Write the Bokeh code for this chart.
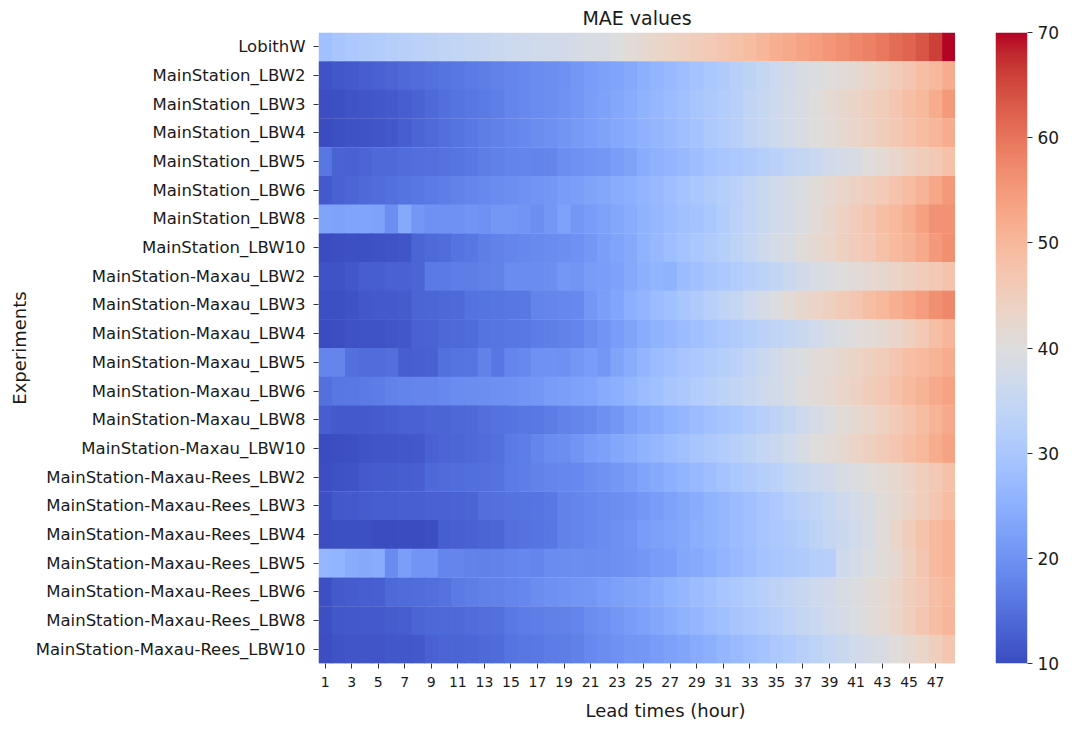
import numpy as np
from bokeh.plotting import figure
from bokeh.layouts import row
from bokeh.models import (LinearColorMapper, FixedTicker, Range1d, FactorRange,
                          ColumnDataSource, Title)
from bokeh.embed import file_html
from bokeh.resources import INLINE

# ---------------- data ----------------
experiments = [
    "LobithW",
    "MainStation_LBW2", "MainStation_LBW3", "MainStation_LBW4", "MainStation_LBW5",
    "MainStation_LBW6", "MainStation_LBW8", "MainStation_LBW10",
    "MainStation-Maxau_LBW2", "MainStation-Maxau_LBW3", "MainStation-Maxau_LBW4",
    "MainStation-Maxau_LBW5", "MainStation-Maxau_LBW6", "MainStation-Maxau_LBW8",
    "MainStation-Maxau_LBW10",
    "MainStation-Maxau-Rees_LBW2", "MainStation-Maxau-Rees_LBW3", "MainStation-Maxau-Rees_LBW4",
    "MainStation-Maxau-Rees_LBW5", "MainStation-Maxau-Rees_LBW6", "MainStation-Maxau-Rees_LBW8",
    "MainStation-Maxau-Rees_LBW10",
]
lead_times = list(range(1, 49))
tick_hours = [1, 3, 5, 7, 9, 11, 13, 15, 17, 19, 21, 23, 25, 27, 29, 31, 33, 35, 37, 39, 41, 43, 45, 47]
cbar_ticks = [10, 20, 30, 40, 50, 60, 70]

mae_lobithw = [28.5, 29.5, 30.5, 31.0, 31.5, 32.0, 32.5, 33.0, 33.5, 34.0, 34.5, 35.0,
               35.5, 36.0, 36.3, 36.6, 37.0, 37.3, 37.6, 38.0, 38.5, 39.0, 39.8, 41.0,
               42.0, 43.0, 43.8, 44.5, 45.2, 46.0, 47.0, 48.0, 49.0, 50.5, 51.5, 52.5,
               53.5, 54.5, 55.5, 56.5, 57.5, 58.5, 59.5, 61.0, 62.0, 63.5, 66.0, 70.0]
mae_ms_lbw2 = [11.0, 11.5, 12.0, 12.5, 13.0, 13.5, 14.0, 14.5, 15.0, 15.5, 16.0, 16.5,
               17.0, 17.5, 18.0, 18.5, 19.0, 19.5, 20.0, 20.8, 21.5, 22.3, 23.0, 24.0,
               25.0, 26.0, 27.0, 28.0, 29.0, 30.0, 31.0, 32.3, 33.5, 35.0, 36.3, 37.5,
               38.7, 39.5, 40.3, 41.0, 42.0, 43.0, 44.0, 45.5, 47.0, 48.5, 50.0, 52.0]
mae_ms_lbw3 = [10.3, 10.6, 11.0, 11.3, 11.6, 12.0, 12.5, 13.2, 14.0, 14.8, 15.5, 16.0,
               16.5, 17.2, 18.0, 18.5, 19.0, 19.5, 20.2, 21.0, 21.8, 22.5, 23.5, 24.5,
               25.5, 26.5, 27.5, 28.5, 29.5, 30.5, 31.5, 32.7, 34.0, 35.2, 36.5, 37.7,
               39.0, 40.2, 41.5, 42.5, 43.5, 44.5, 45.5, 47.0, 48.5, 50.0, 52.0, 55.0]
mae_ms_lbw4 = [10.2, 10.5, 10.8, 11.0, 11.3, 11.8, 12.5, 13.3, 14.0, 14.8, 15.5, 16.2,
               16.8, 17.4, 18.0, 18.6, 19.2, 19.8, 20.5, 21.3, 22.0, 22.8, 23.7, 24.5,
               25.3, 26.2, 27.2, 28.2, 29.2, 30.3, 31.5, 32.7, 34.0, 35.3, 36.5, 37.7,
               39.0, 40.0, 41.0, 42.0, 43.0, 44.0, 45.2, 46.5, 47.7, 49.0, 50.5, 52.0]
mae_ms_lbw5 = [16.0, 13.2, 13.0, 13.5, 14.0, 14.2, 14.5, 14.8, 15.0, 15.3, 15.8, 16.3,
               16.8, 17.3, 17.8, 18.2, 17.8, 18.0, 19.5, 20.0, 20.5, 21.0, 21.8, 22.8,
               24.5, 25.3, 26.0, 27.0, 28.0, 29.0, 29.7, 30.3, 31.0, 32.0, 33.0, 34.0,
               35.0, 36.0, 37.0, 38.0, 39.0, 40.3, 41.5, 42.8, 44.0, 45.3, 46.5, 48.0]
mae_ms_lbw6 = [12.0, 13.0, 13.5, 14.0, 14.5, 15.0, 15.5, 16.0, 16.5, 17.0, 17.5, 18.0,
               18.5, 19.0, 19.5, 20.0, 20.5, 21.0, 21.5, 22.0, 22.7, 23.5, 24.3, 25.0,
               26.0, 27.0, 28.0, 29.0, 30.0, 31.0, 32.0, 33.2, 34.5, 35.8, 37.0, 38.2,
               39.5, 40.8, 42.0, 43.0, 44.0, 45.0, 46.0, 47.5, 49.0, 51.0, 53.0, 55.0]
mae_ms_lbw8 = [23.0, 22.5, 23.0, 23.0, 22.5, 19.5, 24.0, 21.0, 20.0, 20.0, 20.0, 20.5,
               20.0, 21.0, 21.0, 20.5, 19.5, 21.0, 22.5, 21.0, 21.5, 22.5, 23.5, 24.5,
               25.5, 26.5, 27.5, 28.3, 29.0, 30.0, 31.5, 33.0, 34.5, 36.0, 37.0, 38.0,
               39.5, 41.0, 42.5, 44.0, 45.5, 47.0, 48.5, 50.0, 51.5, 54.0, 56.0, 56.0]
mae_ms_lbw10 = [10.0, 10.3, 10.5, 10.5, 10.8, 11.0, 11.2, 13.5, 14.0, 14.5, 15.5, 16.0,
                17.0, 17.5, 18.0, 18.3, 18.7, 19.0, 19.5, 20.0, 21.0, 22.0, 23.0, 24.0,
                25.5, 26.8, 28.0, 29.0, 30.0, 31.0, 32.0, 33.5, 35.0, 36.5, 38.0, 39.0,
                40.5, 42.0, 43.0, 44.5, 45.5, 46.5, 48.0, 49.5, 51.0, 52.5, 55.0, 56.5]
mae_mx_lbw2 = [11.0, 11.0, 11.5, 12.5, 12.5, 13.0, 13.0, 13.5, 16.5, 16.5, 16.8, 17.0,
               17.3, 17.5, 19.0, 19.0, 19.0, 19.5, 21.0, 20.5, 21.5, 21.8, 22.5, 24.0,
               25.0, 26.0, 25.5, 27.5, 28.5, 29.5, 30.5, 31.5, 32.5, 33.5, 34.5, 36.0,
               37.5, 38.5, 39.5, 40.2, 41.0, 41.8, 42.5, 43.5, 44.5, 45.5, 46.5, 47.5]
mae_mx_lbw3 = [10.5, 10.5, 10.8, 11.5, 12.0, 12.0, 12.3, 13.3, 13.6, 13.8, 14.0, 15.3,
               15.5, 15.8, 16.0, 16.2, 17.8, 18.0, 18.3, 18.6, 21.0, 22.0, 23.3, 24.8,
               26.0, 27.5, 28.5, 29.8, 31.0, 32.3, 33.7, 35.0, 36.5, 38.0, 39.5, 41.0,
               42.5, 43.5, 44.5, 45.7, 47.0, 48.5, 50.0, 51.5, 53.0, 54.5, 56.5, 57.5]
mae_mx_lbw4 = [10.2, 10.3, 10.8, 11.0, 11.0, 11.2, 11.5, 13.0, 13.2, 13.8, 14.0, 14.3,
               15.5, 15.8, 16.0, 16.3, 16.6, 17.2, 17.5, 18.0, 19.5, 20.5, 21.5, 23.0,
               24.5, 25.5, 26.5, 27.5, 28.5, 29.3, 30.2, 31.0, 32.0, 33.0, 34.0, 35.0,
               36.0, 37.2, 38.5, 39.5, 40.3, 41.0, 42.0, 43.0, 44.5, 46.5, 48.5, 50.5]
mae_mx_lbw5 = [18.0, 18.0, 15.0, 14.5, 14.5, 14.8, 12.5, 12.8, 13.0, 15.0, 15.5, 15.8,
               17.5, 16.0, 18.0, 18.5, 20.0, 20.0, 19.8, 21.0, 21.5, 21.0, 23.0, 24.5,
               26.0, 27.5, 28.5, 29.5, 30.5, 31.3, 32.2, 33.2, 34.5, 36.0, 37.5, 38.5,
               39.5, 40.5, 41.5, 42.5, 43.5, 44.5, 45.5, 47.0, 48.5, 49.5, 51.0, 52.0]
mae_mx_lbw6 = [15.0, 16.0, 16.2, 16.4, 16.6, 17.5, 17.8, 18.0, 18.2, 18.5, 19.0, 19.3,
               19.5, 19.8, 20.0, 20.5, 21.0, 21.5, 22.0, 22.5, 23.3, 24.2, 25.2, 26.2,
               27.5, 28.5, 29.5, 30.5, 31.5, 32.5, 33.5, 34.5, 35.5, 36.5, 37.5, 38.7,
               40.0, 41.0, 42.0, 43.0, 44.0, 45.3, 46.5, 48.0, 49.5, 51.0, 52.5, 53.5]
mae_mx_lbw8 = [12.5, 12.0, 12.0, 12.0, 12.2, 12.5, 13.0, 13.0, 13.3, 13.5, 13.8, 14.2,
               14.8, 15.2, 15.5, 16.0, 16.3, 16.7, 17.5, 18.0, 18.8, 19.8, 21.0, 22.3,
               23.5, 24.5, 25.5, 26.5, 27.5, 28.5, 29.3, 30.0, 31.3, 32.5, 33.8, 35.0,
               36.5, 38.0, 39.5, 41.0, 42.0, 43.0, 44.3, 45.8, 47.3, 49.0, 51.0, 52.5]
mae_mx_lbw10 = [10.2, 10.3, 10.5, 11.0, 11.2, 11.3, 11.5, 11.8, 13.0, 13.3, 13.6, 14.0,
                14.5, 15.0, 16.5, 17.0, 18.0, 19.0, 19.5, 20.5, 21.5, 22.3, 23.5, 24.5,
                25.5, 26.5, 27.5, 28.5, 29.5, 30.5, 31.5, 32.5, 33.5, 34.8, 36.0, 37.0,
                38.5, 40.0, 41.0, 42.0, 43.3, 44.5, 45.7, 47.0, 48.5, 50.0, 52.0, 53.5]
mae_rs_lbw2 = [10.3, 10.8, 11.0, 12.0, 12.2, 12.3, 12.5, 12.7, 14.0, 14.3, 14.5, 14.8,
               15.0, 15.3, 16.5, 17.0, 17.5, 18.0, 18.3, 18.6, 19.5, 20.3, 21.0, 21.8,
               23.0, 24.0, 25.0, 26.0, 27.0, 28.0, 29.0, 30.0, 31.0, 32.0, 33.0, 34.2,
               35.5, 36.5, 37.5, 38.5, 39.5, 40.3, 41.2, 42.3, 43.5, 45.0, 46.5, 48.0]
mae_rs_lbw3 = [10.5, 11.8, 12.0, 12.3, 12.5, 12.5, 12.7, 12.8, 13.0, 13.0, 13.2, 13.5,
               14.8, 15.0, 15.3, 15.5, 15.8, 16.2, 17.5, 18.0, 18.5, 19.0, 19.5, 20.0,
               21.0, 21.7, 22.5, 23.5, 24.5, 25.5, 26.5, 27.5, 28.5, 29.5, 30.7, 32.0,
               33.0, 34.0, 35.2, 36.5, 37.7, 39.0, 40.5, 42.0, 43.5, 45.0, 47.0, 49.0]
mae_rs_lbw4 = [10.3, 10.5, 10.5, 10.6, 10.2, 10.0, 10.0, 10.2, 10.4, 12.5, 12.8, 13.0,
               13.3, 13.6, 15.0, 15.3, 15.7, 16.0, 17.5, 18.0, 18.5, 19.0, 19.7, 20.5,
               21.5, 22.3, 23.0, 23.8, 24.6, 25.5, 26.5, 27.5, 28.5, 29.5, 30.3, 31.0,
               32.0, 33.5, 35.0, 36.0, 37.0, 38.5, 40.5, 43.0, 45.5, 47.5, 49.5, 51.0]
mae_rs_lbw5 = [26.5, 26.0, 24.5, 24.0, 24.5, 19.0, 22.0, 20.5, 20.5, 18.0, 18.0, 17.5,
               17.3, 17.5, 18.0, 18.3, 18.0, 19.0, 19.3, 19.5, 19.2, 19.5, 19.8, 20.2,
               21.0, 21.5, 22.0, 23.5, 24.0, 25.0, 26.0, 27.0, 28.0, 29.0, 29.8, 30.5,
               31.0, 31.8, 32.5, 36.5, 38.0, 39.5, 40.5, 42.0, 44.5, 47.0, 49.5, 51.0]
mae_rs_lbw6 = [10.5, 12.0, 12.3, 12.5, 12.8, 14.0, 14.3, 14.5, 14.8, 15.2, 16.5, 17.0,
               17.3, 17.6, 18.0, 18.3, 19.3, 19.8, 20.2, 20.6, 21.0, 21.5, 22.3, 23.0,
               23.5, 24.5, 25.5, 26.5, 27.5, 28.5, 29.5, 30.5, 31.5, 32.5, 33.5, 34.5,
               35.5, 36.5, 37.5, 38.5, 39.5, 40.5, 41.5, 43.0, 45.0, 46.5, 48.5, 50.0]
mae_rs_lbw8 = [10.5, 11.5, 11.8, 12.0, 12.0, 12.2, 12.5, 13.5, 13.8, 14.0, 14.2, 14.5,
               14.8, 15.0, 16.3, 16.7, 17.0, 17.3, 17.7, 18.0, 19.3, 20.0, 20.8, 21.5,
               22.5, 23.5, 24.5, 25.5, 26.5, 27.5, 28.5, 29.5, 30.5, 31.5, 32.5, 33.7,
               35.0, 36.0, 37.0, 38.0, 39.2, 40.5, 41.5, 43.0, 45.0, 47.0, 49.0, 50.5]
mae_rs_lbw10 = [10.3, 11.0, 11.2, 11.3, 11.3, 11.5, 11.6, 11.8, 13.0, 13.3, 13.5, 13.7,
                14.0, 14.3, 15.5, 16.0, 16.3, 16.6, 17.0, 17.3, 18.5, 19.2, 20.0, 20.7,
                21.0, 21.5, 22.3, 23.2, 24.2, 25.2, 26.2, 27.2, 28.2, 29.2, 30.2, 31.2,
                32.5, 33.5, 34.7, 36.0, 37.0, 38.0, 39.0, 40.3, 41.7, 43.2, 45.0, 47.0]

mae_rows = [mae_lobithw, mae_ms_lbw2, mae_ms_lbw3, mae_ms_lbw4, mae_ms_lbw5, mae_ms_lbw6,
            mae_ms_lbw8, mae_ms_lbw10, mae_mx_lbw2, mae_mx_lbw3, mae_mx_lbw4, mae_mx_lbw5,
            mae_mx_lbw6, mae_mx_lbw8, mae_mx_lbw10, mae_rs_lbw2, mae_rs_lbw3, mae_rs_lbw4,
            mae_rs_lbw5, mae_rs_lbw6, mae_rs_lbw8, mae_rs_lbw10]

# ---------------- coolwarm palette (Moreland diverging) ----------------
_cw = [(59, 76, 192), (68, 90, 204), (77, 104, 215), (87, 117, 225), (98, 130, 234),
       (108, 142, 241), (119, 154, 247), (130, 165, 251), (141, 176, 254), (152, 185, 255),
       (163, 194, 255), (174, 201, 253), (184, 208, 249), (194, 213, 244), (204, 217, 238),
       (213, 219, 230), (221, 221, 221), (229, 216, 209), (236, 211, 197), (241, 204, 185),
       (245, 196, 173), (247, 187, 160), (247, 177, 148), (247, 166, 135), (244, 154, 123),
       (241, 141, 111), (236, 127, 99), (229, 112, 88), (222, 96, 77), (213, 80, 66),
       (203, 62, 56), (192, 40, 47), (180, 4, 38)]
_pos = np.linspace(0, 1, len(_cw))
_t = np.linspace(0, 1, 256)
_arr = np.array(_cw, dtype=float)
palette = ["#%02x%02x%02x" % tuple(int(round(np.interp(t, _pos, _arr[:, k]))) for k in range(3))
           for t in _t]

mapper = LinearColorMapper(palette=palette, low=10, high=70)

xs, ys, vs = [], [], []
for name, vals in zip(experiments, mae_rows):
    for h, v in zip(lead_times, vals):
        xs.append(h)
        ys.append(name)
        vs.append(v)
src = ColumnDataSource(dict(x=xs, y=ys, v=vs))

FONT = "DejaVu Sans"
TXT = "#1a1a1a"
H = 728

p = figure(width=955, height=H, output_backend="svg", toolbar_location=None,
           x_range=Range1d(0.5, 48.5), y_range=FactorRange(factors=list(reversed(experiments))),
           min_border_left=318, min_border_right=0, min_border_top=32, min_border_bottom=63,
           title="MAE values")
p.title.align = "center"
p.title.text_font = FONT
p.title.text_font_size = "19px"
p.title.text_font_style = "normal"
p.title.text_color = TXT
p.title.standoff = 8

p.rect(x="x", y="y", width=1, height=1, source=src, dilate=True,
       fill_color={"field": "v", "transform": mapper}, line_color=None)

p.outline_line_color = None
p.grid.visible = False

p.xaxis.ticker = FixedTicker(ticks=tick_hours)
p.yaxis.axis_label = "Experiments"
for ax in (p.xaxis[0], p.yaxis[0]):
    ax.axis_line_color = None
    ax.major_tick_in = 0
    ax.major_tick_out = 5
    ax.major_tick_line_color = "#333333"
    ax.minor_tick_line_color = None
    ax.major_label_text_font = FONT
    ax.major_label_text_color = TXT
    ax.axis_label_text_font = FONT
    ax.axis_label_text_font_style = "normal"
    ax.axis_label_text_color = TXT
p.xaxis.major_label_text_font_size = "14px"
p.xaxis.major_label_standoff = 8
p.yaxis.major_label_text_font_size = "16.5px"
p.yaxis.major_label_standoff = 8
p.yaxis.axis_label_text_font_size = "18px"
p.yaxis.axis_label_standoff = 3

xlabel = Title(text="Lead times (hour)", align="left", offset=267, standoff=16,
               text_font=FONT, text_font_size="18px", text_font_style="normal", text_color=TXT)
p.add_layout(xlabel, "below")

# ---------------- colour bar (separate narrow figure) ----------------
cb_values = np.linspace(10, 70, 256).reshape(256, 1)
cb = figure(width=119, height=H, output_backend="svg", toolbar_location=None,
            x_range=Range1d(0, 1), y_range=Range1d(10, 70), y_axis_location="right",
            min_border_left=40, min_border_right=47, min_border_top=30, min_border_bottom=63)
cb.image(image=[cb_values], x=0, y=10, dw=1, dh=60, color_mapper=mapper)
cb.xaxis.visible = False
cb.grid.visible = False
cb.outline_line_color = None
cb.yaxis.ticker = FixedTicker(ticks=cbar_ticks)
cb.yaxis.axis_line_color = None
cb.yaxis.major_tick_in = 0
cb.yaxis.major_tick_out = 5
cb.yaxis.major_tick_line_color = "#333333"
cb.yaxis.minor_tick_line_color = None
cb.yaxis.major_label_text_font = FONT
cb.yaxis.major_label_text_font_size = "17px"
cb.yaxis.major_label_text_color = TXT
cb.yaxis.major_label_standoff = 5

layout = row(p, cb)
open("out.html", "w").write(file_html(layout, INLINE))
